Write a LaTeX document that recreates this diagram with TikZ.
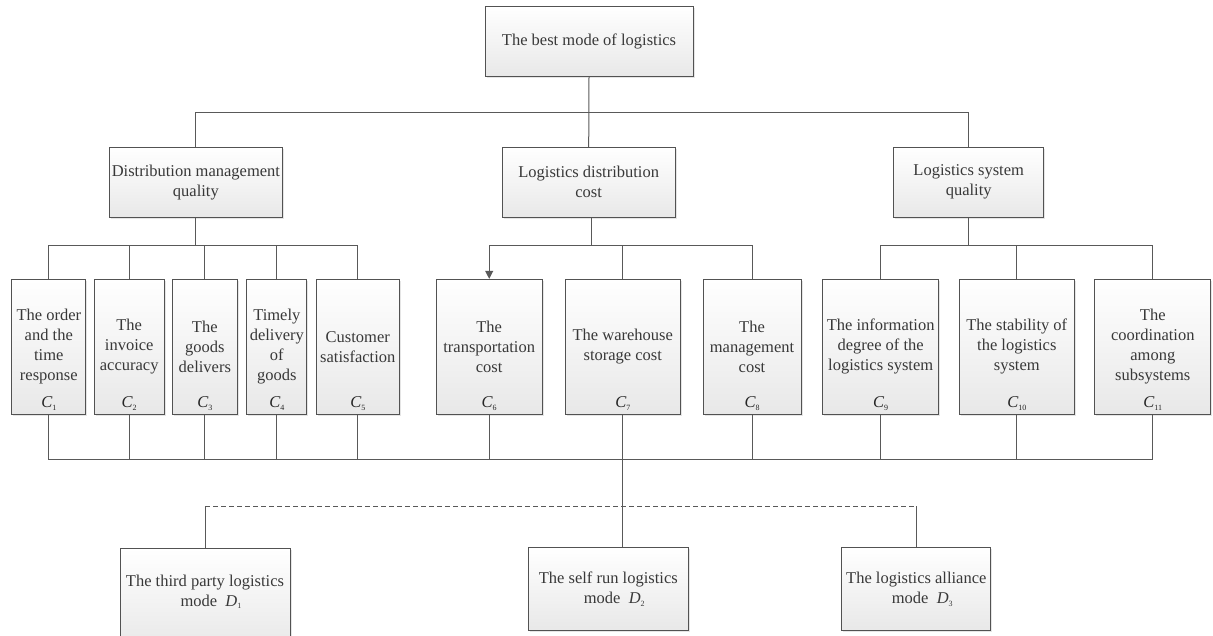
\documentclass[tikz,border=0pt]{standalone}
\usepackage{fontspec}
\setmainfont{Liberation Serif}
\usetikzlibrary{arrows.meta,shadows}
\newcommand{\lbl}[2]{{\itshape #1}\raisebox{-2.5pt}{\fontsize{8}{8}\selectfont #2}}
\tikzset{
  box/.style={draw=black!68, line width=1pt, top color=white, bottom color=black!9,
    drop shadow={shadow xshift=1.5pt, shadow yshift=-1.5pt, opacity=0.1, fill=black},
    inner sep=0pt, align=center, text=black!78,
    font=\fontsize{16.5}{20}\selectfont},
  conn/.style={draw=black!65, line width=1pt},
  dashconn/.style={draw=black!65, line width=1pt, dash pattern=on 5pt off 3pt},
  arr/.style={conn, -{Triangle[width=8pt,length=8pt]}},
  lab/.style={inner sep=0pt, text=black!85, font=\fontsize{16.5}{20}\selectfont},
  txt/.style={inner sep=0pt, align=center, text=black!78, font=\fontsize{16.5}{20}\selectfont},
}
\begin{document}
\begin{tikzpicture}[x=1pt,y=-1pt]
\useasboundingbox (0,0) rectangle (1213,635);
% level 1
\node[box, minimum width=208pt, minimum height=70pt] (top) at (589,41) {The best mode of logistics};
% level 2
\node[box, minimum width=173.7pt, minimum height=70pt] (A) at (195.9,182.3) {Distribution management\\quality};
\node[box, minimum width=173.3pt, minimum height=70pt] (B) at (588.7,182.3) {Logistics distribution\\cost};
\node[box, minimum width=150pt, minimum height=70pt] (Q) at (968.7,182.3) {Logistics system\\quality};
% level 3
\node[box, minimum width=74.3pt, minimum height=134.7pt] (c1) at (48.8,346.7) {The order\\and the\\time\\response};
\node[box, minimum width=69.7pt, minimum height=134.7pt] (c2) at (129.2,346.7) {The\\invoice\\accuracy};
\node[box, minimum width=65pt, minimum height=134.7pt] (c3) at (204.8,346.7) {The\\goods\\delivers};
\node[box, minimum width=59.7pt, minimum height=134.7pt] (c4) at (276.8,346.7) {Timely\\delivery\\of\\goods};
\node[box, minimum width=83pt, minimum height=134.7pt] (c5) at (357.8,346.7) {Customer\\satisfaction};
\node[box, minimum width=106.3pt, minimum height=134.7pt] (c6) at (489.2,346.7) {The\\transportation\\cost};
\node[box, minimum width=115pt, minimum height=134.7pt] (c7) at (622.8,346.7) {The warehouse\\storage cost};
\node[box, minimum width=98pt, minimum height=134.7pt] (c8) at (752,346.7) {The\\management\\cost};
\node[box, minimum width=116pt, minimum height=134.7pt] (c9) at (880.7,346.7) {The information\\degree of the\\logistics system};
\node[box, minimum width=115pt, minimum height=134.7pt] (c10) at (1016.8,346.7) {The stability of\\the logistics\\system};
\node[box, minimum width=115.7pt, minimum height=134.7pt] (c11) at (1152.8,346.7) {The\\coordination\\among\\subsystems};
% labels
\node[lab] (l1) at ([yshift=11pt]c1.south) {\lbl{C}{1}};
\node[lab] (l2) at ([yshift=11pt]c2.south) {\lbl{C}{2}};
\node[lab] (l3) at ([yshift=11pt]c3.south) {\lbl{C}{3}};
\node[lab] (l4) at ([yshift=11pt]c4.south) {\lbl{C}{4}};
\node[lab] (l5) at ([yshift=11pt]c5.south) {\lbl{C}{5}};
\node[lab] (l6) at ([yshift=11pt]c6.south) {\lbl{C}{6}};
\node[lab] (l7) at ([yshift=11pt]c7.south) {\lbl{C}{7}};
\node[lab] (l8) at ([yshift=11pt]c8.south) {\lbl{C}{8}};
\node[lab] (l9) at ([yshift=11pt]c9.south) {\lbl{C}{9}};
\node[lab] (l10) at ([yshift=11pt]c10.south) {\lbl{C}{10}};
\node[lab] (l11) at ([yshift=11pt]c11.south) {\lbl{C}{11}};
% level 4
\node[box, minimum width=170pt, minimum height=100pt, anchor=north] (d1) at (205,547.7) {};
\node[txt] (d1t) at (205,592) {The third party logistics\\\hspace*{12pt}mode~~\lbl{D}{1}};
\node[box, minimum width=160pt, minimum height=83pt] (d2) at (608.3,589.2) {The self run logistics\\\hspace*{12pt}mode~~\lbl{D}{2}};
\node[box, minimum width=149.3pt, minimum height=83pt] (d3) at (916.3,589.2) {The logistics alliance\\\hspace*{12pt}mode~~\lbl{D}{3}};
% helper rows
\coordinate (h1) at (0,112.7);
\coordinate (h2) at (0,245);
\coordinate (h3) at (0,459.3);
\coordinate (h4) at (0,506);
% connectors level 1-2
\draw[conn] (top.south) -- (B.north);
\draw[conn] (A.north) -- (A.north |- h1) -- (Q.north |- h1) -- (Q.north);
% distribution group
\draw[conn] (A.south) -- (A.south |- h2);
\draw[conn] (c1.north) -- (c1.north |- h2) -- (c5.north |- h2) -- (c5.north);
\draw[conn] (c2.north) -- (c2.north |- h2);
\draw[conn] (c3.north) -- (c3.north |- h2);
\draw[conn] (c4.north) -- (c4.north |- h2);
% cost group
\draw[conn] ([xshift=3pt]B.south) -- ([xshift=3pt]B.south |- h2);
\draw[arr] (c8.north |- h2) -- (c6.north |- h2) -- (c6.north);
\draw[conn] (c8.north) -- (c8.north |- h2);
\draw[conn] (c7.north) -- (c7.north |- h2);
% system group
\draw[conn] (Q.south) -- (Q.south |- h2);
\draw[conn] (c9.north) -- (c9.north |- h2) -- (c11.north |- h2) -- (c11.north);
\draw[conn] (c10.north) -- (c10.north |- h2);
% bottom collector
\draw[conn] (c1.south) -- (c1.south |- h3) -- (c11.south |- h3) -- (c11.south);
\foreach \n in {c2,c3,c4,c5,c6,c8,c9,c10}{\draw[conn] (\n.south) -- (\n.south |- h3);}
\draw[conn] (c7.south) -- (c7.south |- d2.north);
% modes
\draw[conn] (d1.north |- h4) -- (d1.north);
\draw[dashconn] (d1.north |- h4) -- (d3.north |- h4);
\draw[conn] (d3.north |- h4) -- (d3.north);
\end{tikzpicture}
\end{document}
